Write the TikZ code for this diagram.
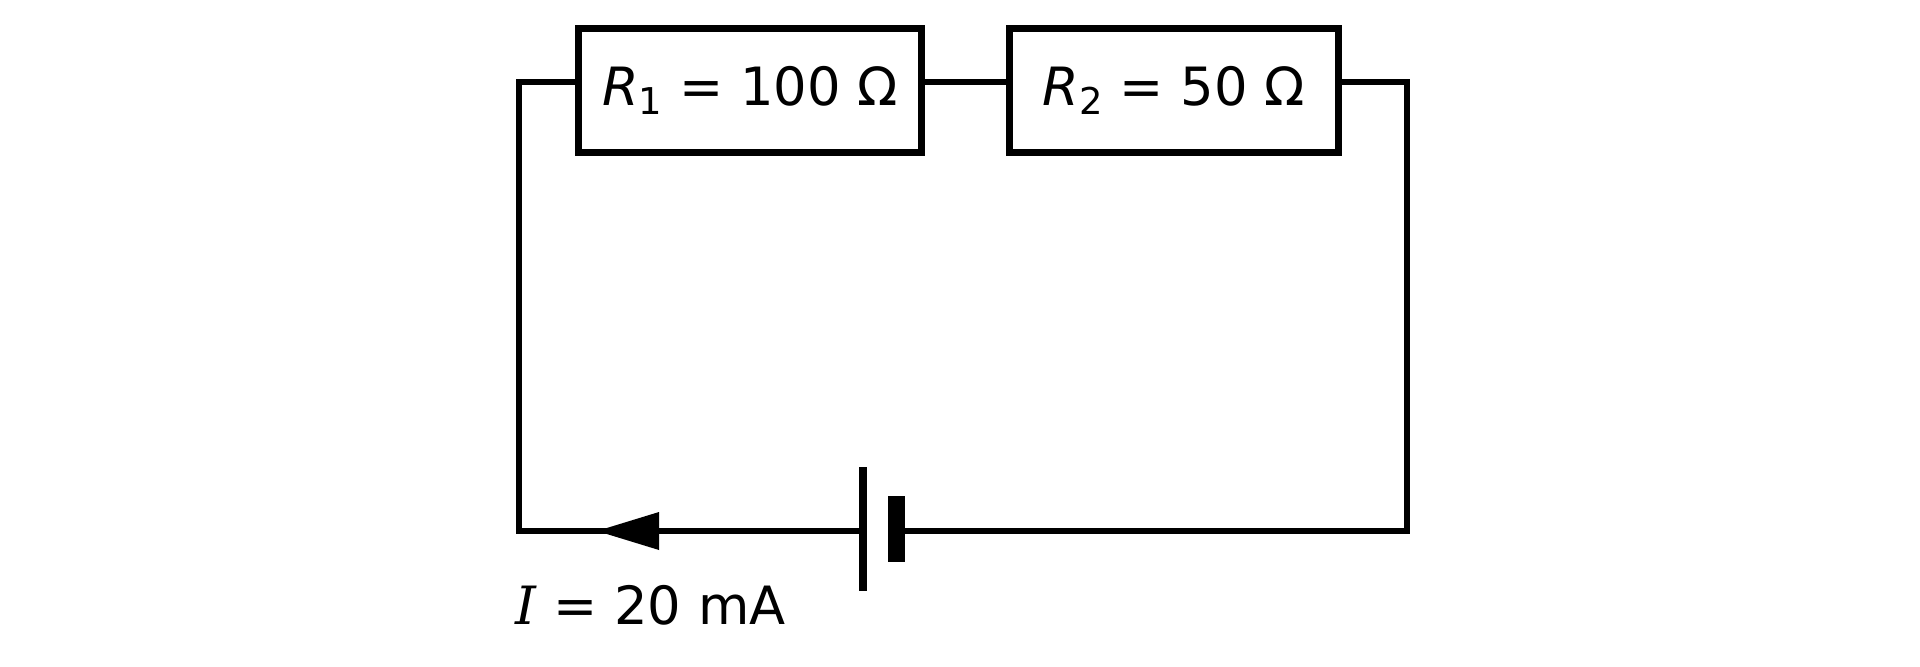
\documentclass[tikz,border=0pt]{standalone}
\usepackage{fontspec}
\setmainfont{DejaVu Sans}
\newfontfamily\serifit{DejaVu Serif}
\newcommand{\sbx}[1]{\raisebox{-0.3ex}{\fontsize{10.5}{11}\selectfont #1}}
\begin{document}
\begin{tikzpicture}[x=0.01cm,y=-0.01cm,
  wire/.style={line width=1.6pt},
  res/.style={draw,line width=2pt,minimum height=1.23cm,inner sep=0pt,font=\fontsize{15}{17}\selectfont},
  plate/.style={fill=black,draw=none,inner sep=0pt}]
\useasboundingbox (0,0) rectangle (1920,666);
\node[res,minimum width=3.42cm] (r1) at (750,90.5) {\textit{R}\sbx{1} = 100 Ω};
\node[res,minimum width=3.28cm] (r2) at (1174,90.5) {\textit{R}\sbx{2} = 50 Ω};
\coordinate (tl) at (519,82);
\coordinate (bl) at (519,531);
\coordinate (br) at (1407,531);
\coordinate (tr) at (1407,82);
\node[plate,minimum width=0.08cm,minimum height=1.24cm] (p1) at (863,529) {};
\node[plate,minimum width=0.17cm,minimum height=0.66cm] (p2) at (896.5,529) {};
\draw[wire] (r1.west |- tl) -- (tl) -- (bl) -- (p1.center |- bl);
\draw[wire] (p2.center |- br) -- (br) -- (tr) -- (r2.east |- tr);
\draw[wire] (r1.east |- tl) -- (r2.west |- tl);
\fill (659,512) -- (597,531) -- (659,550) -- cycle;
\node[anchor=base west,inner sep=0pt,font=\fontsize{15}{17}\selectfont] (lab) at (515,624) {{\serifit\itshape I} = 20 mA};
\end{tikzpicture}
\end{document}
